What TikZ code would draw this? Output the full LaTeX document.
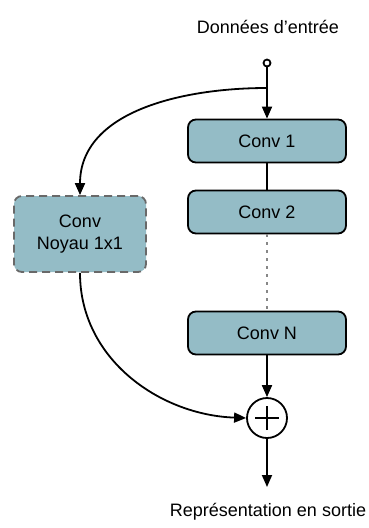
\documentclass[tikz,border=0pt]{standalone}
\usepackage{fontspec}
\setmainfont{Liberation Sans}
\usetikzlibrary{positioning, arrows.meta}
\definecolor{convfill}{RGB}{148,188,198}
\definecolor{dashgray}{RGB}{105,105,105}

\begin{document}
\begin{tikzpicture}[x=1pt, y=-1pt, on grid, line width=1.8pt,
  >={Triangle[length=12pt,width=10pt]},
  conv/.style={draw, rounded corners=8pt, fill=convfill, minimum width=158pt,
    minimum height=43pt, font=\fontsize{18}{22}\selectfont},
  shortcut/.style={conv, draw=dashgray, dash pattern=on 8pt off 5pt,
    minimum width=132pt, minimum height=76pt, align=center},
  sum/.style={draw, circle, fill=white, minimum size=40pt, inner sep=0pt,
    path picture={\draw[line width=1.1pt]
      ([xshift=-12pt]path picture bounding box.center) -- ++(24pt,0pt)
      ([yshift=-12pt]path picture bounding box.center) -- ++(0pt,24pt);}},
  port/.style={draw, circle, fill=white, minimum size=7pt, inner sep=0pt},
  label/.style={font=\fontsize{18}{22}\selectfont}]
  \useasboundingbox (0,0) rectangle (369,528);

  \node[label] (input) at (268,27) {Données d’entrée};
  \node[port] (src) at (267,63) {};
  \coordinate (split) at (267,88);

  \node[conv] (c1) at (267,141) {Conv 1};
  \node[conv] (c2) [below=71pt of c1] {Conv 2};
  \node[conv] (cN) [below=121pt of c2] {Conv N};
  \node[sum] (plus) [below=85pt of cN] {};
  \coordinate (out) at (267,487);
  \node[label] (output) at (268,512) {Représentation en sortie};

  \node[shortcut] (k1) at (80,234) {Conv\\Noyau 1x1};

  % main path
  \draw[->] (src) -- (c1);
  \draw (c1) -- (c2);
  \draw[dashgray!80, dash pattern=on 3pt off 5pt] (c2) -- (cN);
  \draw[->] (cN) -- (plus);
  \draw[->] (plus) -- (out);

  % shortcut
  \draw[->] (split) to[out=180, in=90] (k1.north);
  \draw[->] (k1.south) to[out=-90, in=178] (plus.west);
\end{tikzpicture}
\end{document}
